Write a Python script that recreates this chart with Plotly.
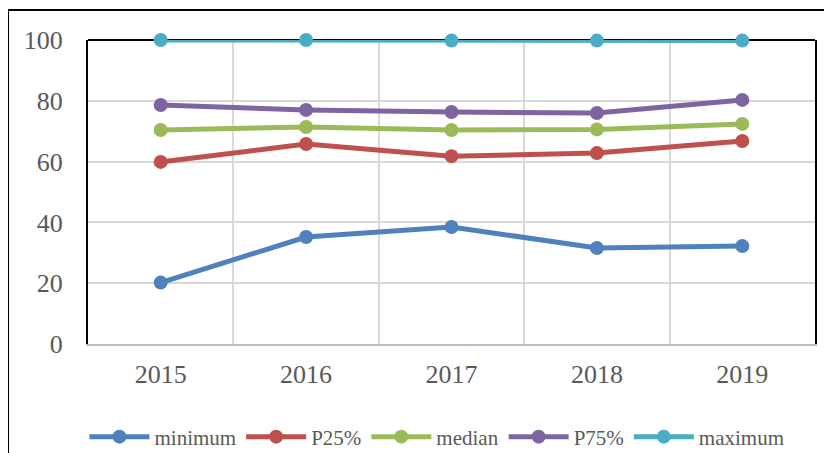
import plotly.graph_objects as go

years = ["2015", "2016", "2017", "2018", "2019"]

minimum = [20.2, 35.2, 38.5, 31.6, 32.2]
p25 = [59.9, 65.8, 61.8, 62.8, 66.8]
median = [70.4, 71.4, 70.4, 70.6, 72.4]
p75 = [78.6, 77.0, 76.3, 76.0, 80.3]
maximum = [100.0, 100.0, 99.8, 99.8, 99.8]

names = ["minimum", "P25%", "median", "P75%", "maximum"]
colors = ["#4f81bd", "#c0504d", "#9bbb59", "#8064a2", "#4bacc6"]

fig = go.Figure()
for name, vals, col in zip(names, [minimum, p25, median, p75, maximum], colors):
    fig.add_trace(go.Scatter(
        x=years, y=vals, name=name, mode="lines+markers",
        line=dict(color=col, width=5),
        marker=dict(color=col, size=14),
        cliponaxis=False,
    ))

serif = "Liberation Serif"

# page body has an 8px margin, so margins are shifted to land the plot area right
fig.update_layout(
    width=832, height=453,
    margin=dict(l=80, r=25, t=32, b=117),
    paper_bgcolor="white", plot_bgcolor="white",
    font=dict(family=serif, color="#595959"),
    showlegend=True,
    legend=dict(
        orientation="h", x=0.48, xanchor="center",
        yref="container", y=0.053, yanchor="middle",
        font=dict(family=serif, size=21, color="#595959"),
        itemwidth=60, traceorder="normal",
    ),
    xaxis=dict(
        type="category", range=[-0.5, 4.5], showgrid=True, gridcolor="#d9d9d9", gridwidth=2,
        tickson="boundaries", ticks="", showline=True, linecolor="#bfbfbf", linewidth=2,
        tickfont=dict(size=26, color="#595959"), ticklabelstandoff=6,
        zeroline=False, automargin=False,
    ),
    yaxis=dict(
        range=[0, 100], dtick=20, showgrid=True, gridcolor="#d9d9d9", gridwidth=2,
        showline=True, linecolor="black", linewidth=2, mirror=True,
        tickfont=dict(size=26, color="#595959"), ticklabelstandoff=18,
        zeroline=False, automargin=False,
    ),
    shapes=[
        # top border of plot area
        dict(type="line", xref="paper", yref="paper", x0=0, x1=1, y0=1, y1=1,
             line=dict(color="black", width=2), layer="below"),
        # outer chart frame
        dict(type="rect", xref="paper", yref="paper", x0=-0.110, x1=1.03, y0=-0.40, y1=1.0987,
             line=dict(color="black", width=2)),
    ],
)

fig.write_html("out.html")
